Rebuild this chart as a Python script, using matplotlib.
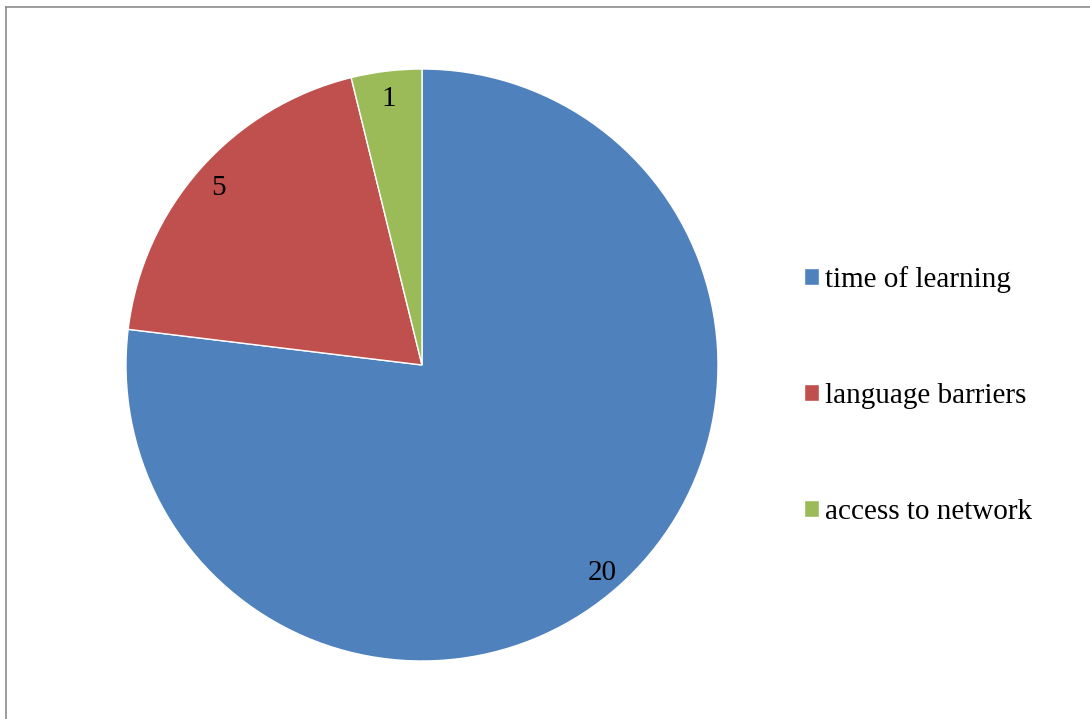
import matplotlib.pyplot as plt
from matplotlib.lines import Line2D
from matplotlib.transforms import ScaledTranslation

plt.rcParams['font.family'] = ['Liberation Serif', 'DejaVu Serif']

labels = ["time of learning", "language barriers", "access to network"]
values = [20, 5, 1]
colors = ["#4F81BD", "#C0504D", "#9BBB59"]

W, H = 1090, 719
fig = plt.figure(figsize=(W / 100, H / 100), dpi=100)

# pie center (422, 365) px, radius 296 px
cx, cy, r = 422, 365, 296
ax = fig.add_axes([(cx - r) / W, (H - cy - r) / H, 2 * r / W, 2 * r / H])

wedges, texts = ax.pie(values, colors=colors, startangle=90, counterclock=False,
                       labels=[str(v) for v in values], labeldistance=0.92,
                       wedgeprops=dict(edgecolor="white", linewidth=1),
                       textprops=dict(fontsize=21, color="black", ha="center", va="center"))
for w in wedges:
    w.set_clip_on(False)
# nudge value labels down a few pixels
for t in texts:
    t.set_transform(t.get_transform() + ScaledTranslation(0, -0.04, fig.dpi_scale_trans))
ax.set_xlim(-1, 1)
ax.set_ylim(-1, 1)
ax.set_aspect("equal")

fig.legend(wedges, labels, loc="upper left", bbox_to_anchor=(804 / W, 1 - 266 / H),
           frameon=False, fontsize=21, handlelength=0.5, handleheight=0.5,
           handletextpad=0.22, labelspacing=3.08, borderpad=0, borderaxespad=0)

# outer chart border (left and top visible)
fig.add_artist(Line2D([6 / W, 6 / W], [0, 1 - 7 / H], color="#8c8c8c", lw=1.2,
                      transform=fig.transFigure))
fig.add_artist(Line2D([6 / W, 1], [1 - 7 / H, 1 - 7 / H], color="#8c8c8c", lw=1.2,
                      transform=fig.transFigure))

fig.savefig("out.png", dpi=100)
